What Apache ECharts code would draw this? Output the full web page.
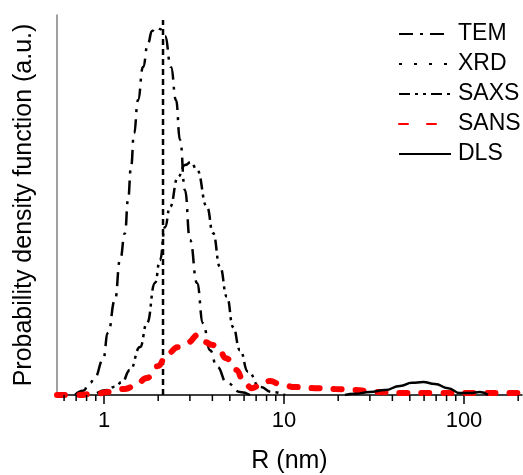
<!DOCTYPE html>
<html><head><meta charset="utf-8">
<script src="https://cdn.jsdelivr.net/npm/echarts@6/dist/echarts.min.js"></script>
<style>html,body{margin:0;padding:0;background:#fff}#c{width:523px;height:475px}</style>
</head><body><div id="c"></div>
<script>
const majorTicks = [1, 10, 100];
const minorTicks = [0.6,0.7,0.8,0.9,2,3,4,5,6,7,8,9,20,30,40,50,60,70,80,90,200];

const temR = [0.69,0.764,0.836,0.891,0.987,1.052,1.151,1.227,1.308,1.359,1.413,1.468,1.545,1.647,1.756,1.848,1.945,2.047,2.183,2.356,2.512,2.644,2.818,3.005,3.286,3.548,3.881,4.244,4.823,5.696,6.475];
const temY = [0,0.011,0.032,0.047,0.092,0.163,0.25,0.355,0.426,0.513,0.6,0.689,0.776,0.863,0.926,0.958,0.968,0.963,0.945,0.863,0.776,0.671,0.539,0.408,0.295,0.189,0.118,0.074,0.032,0.008,0];

const xrdR = [2.127, 2.127];
const xrdY = [0, 0.987];

const saxsR = [0.914,1.039,1.151,1.259,1.395,1.585,1.733,1.920,2.047,2.183,2.326,2.577,2.818,3.042,3.286,3.735,4.034,4.41,4.823,5.21,5.696,6.31,7.356,8.577,10.13];
const saxsY = [0.005,0.013,0.022,0.034,0.066,0.126,0.189,0.295,0.355,0.442,0.495,0.574,0.605,0.613,0.592,0.495,0.426,0.337,0.258,0.179,0.118,0.061,0.021,0.008,0];

const sansR = [0.548,0.708,0.891,1.08,1.308,1.486,1.733,1.995,2.239,2.577,2.929,3.33,3.64,3.981,4.3,4.762,5.412,6.07,6.64,7.36,8.36,9.5,11.5,14.9,19.2,24.8,32.0,44.1,73.6,122.7,200];
const sansY = [0,0,0.003,0.008,0.016,0.024,0.045,0.076,0.108,0.126,0.139,0.158,0.139,0.132,0.126,0.097,0.066,0.029,0.018,0.026,0.037,0.029,0.021,0.018,0.016,0.013,0.008,0.005,0.005,0.005,0.005];

const dlsR = [21.8,24.8,30.0,36.4,44.1,51.4,59.2,69.0,81.5,95.0,108,122.7,136];
const dlsY = [0,0.003,0.008,0.013,0.024,0.032,0.034,0.029,0.018,0.005,0.005,0.008,0];

function pairs(r, y) { return r.map((v, i) => [v, y[i]]); }

const font = '"Liberation Sans", Arial, sans-serif';
const xMin = 0.548, xMax = 210;
const chart = echarts.init(document.getElementById('c'), null, {renderer: 'canvas'});
chart.setOption({
  backgroundColor: '#ffffff',
  animation: false,
  textStyle: {fontFamily: font},
  grid: {left: 57, right: 1, top: 15, bottom: 80, containLabel: false, outerBoundsMode: 'none'},
  legend: {
    orient: 'vertical', left: 398, top: 22, padding: 0,
    itemWidth: 52, itemHeight: 14, itemGap: 6,
    itemStyle: {opacity: 0},
    textStyle: {fontSize: 23, color: '#000', fontFamily: font, lineHeight: 24, padding: [0, 0, 0, 2]},
    data: [
      {name: 'TEM'},
      {name: 'XRD', lineStyle: {type: [3, 12]}},
      {name: 'SAXS'},
      {name: 'SANS', lineStyle: {type: [9, 19]}},
      {name: 'DLS'}
    ]
  },
  xAxis: {
    type: 'log', min: xMin, max: xMax, position: 'bottom',
    axisLine: {show: true, onZero: false, lineStyle: {color: '#000', width: 1.5}},
    axisTick: {show: true, inside: false, length: 9, customValues: majorTicks, lineStyle: {color: '#000', width: 1.5}},
    axisLabel: {customValues: majorTicks, fontSize: 22, color: '#000', margin: 15, fontFamily: font},
    splitLine: {show: false},
    name: 'R (nm)', nameLocation: 'middle', nameGap: 54,
    nameTextStyle: {fontSize: 25, color: '#000', fontFamily: font}
  },
  yAxis: {
    type: 'value', min: 0, max: 1,
    axisLine: {show: true, lineStyle: {color: '#808080', width: 1.5}},
    axisTick: {show: false}, axisLabel: {show: false}, splitLine: {show: false},
    name: 'Probability density function (a.u.)', nameLocation: 'middle', nameGap: 20,
    nameTextStyle: {fontSize: 25, color: '#000', fontFamily: font}
  },
  series: [
    {name: 'TEM', type: 'line', symbol: 'none', smooth: true, smoothMonotone: 'x',
     data: pairs(temR, temY), lineStyle: {color: '#000', width: 2.5, type: [14, 7, 3, 7]}, itemStyle: {color: '#000'}},
    {name: 'XRD', type: 'line', symbol: 'none',
     data: pairs(xrdR, xrdY), lineStyle: {color: '#000', width: 2.5, type: [6, 4]}, itemStyle: {color: '#000'}},
    {name: 'SAXS', type: 'line', symbol: 'none', smooth: true, smoothMonotone: 'x',
     data: pairs(saxsR, saxsY), lineStyle: {color: '#000', width: 2.5, type: [11, 5, 3, 5, 3, 5]}, itemStyle: {color: '#000'}},
    {name: 'SANS', type: 'line', symbol: 'none', smooth: true, smoothMonotone: 'x',
     data: pairs(sansR, sansY), lineStyle: {color: '#ff0000', width: 6, type: [8, 14], cap: 'round'}, itemStyle: {color: '#ff0000'}},
    {name: 'DLS', type: 'line', symbol: 'none', smooth: true, smoothMonotone: 'x',
     data: pairs(dlsR, dlsY), lineStyle: {color: '#000', width: 2.5, type: 'solid'}, itemStyle: {color: '#000'}}
  ]
});

// minor ticks placed through the chart's own log scale
const minorGraphics = minorTicks.map(function (v) {
  const p = chart.convertToPixel({xAxisIndex: 0, yAxisIndex: 0}, [v, 0]);
  return {type: 'line', z: 100, silent: true,
          shape: {x1: p[0], y1: p[1], x2: p[0], y2: p[1] + 6},
          style: {stroke: '#000', lineWidth: 1.5}};
});
chart.setOption({graphic: {elements: minorGraphics}});
</script></body></html>
